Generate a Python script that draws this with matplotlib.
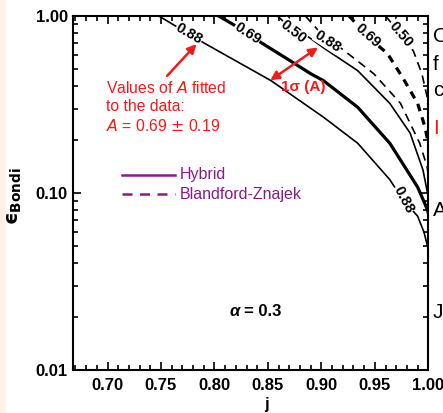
import matplotlib.pyplot as plt
from matplotlib.patches import Rectangle
from matplotlib.ticker import MultipleLocator, FixedLocator, NullFormatter

# ---------- data ----------
# solid (Hybrid) curves
hyb_088_j = [0.748, 0.776, 0.790, 0.853, 0.890, 0.902, 0.934, 0.964, 0.976, 0.990, 0.996, 1.000]
hyb_088_e = [1.000, 0.792, 0.705, 0.431, 0.301, 0.268, 0.191, 0.119, 0.092, 0.074, 0.060, 0.048]

hyb_069_j = [0.804, 0.831, 0.844, 0.871, 0.890, 0.902, 0.934, 0.964, 0.990, 0.999, 1.000]
hyb_069_e = [1.000, 0.802, 0.705, 0.558, 0.472, 0.431, 0.305, 0.191, 0.108, 0.081, 0.077]

hyb_050_j = [0.859, 0.874, 0.884, 0.902, 0.934, 0.964, 0.983, 0.995, 1.000]
hyb_050_e = [1.000, 0.822, 0.792, 0.661, 0.491, 0.321, 0.218, 0.135, 0.095]

# dashed (Blandford-Znajek) curves
bz_088_j = [0.885, 0.906, 0.918, 0.949, 0.974, 0.992, 0.999, 1.000]
bz_088_e = [1.000, 0.723, 0.661, 0.472, 0.321, 0.191, 0.140, 0.125]

bz_069_j = [0.926, 0.943, 0.962, 0.976, 0.990, 0.997, 1.000]
bz_069_e = [1.000, 0.771, 0.611, 0.449, 0.321, 0.235, 0.191]

bz_050_j = [0.960, 0.974, 0.986, 0.994, 0.999, 1.000]
bz_050_e = [1.000, 0.792, 0.635, 0.472, 0.347, 0.290]

x_ticks = [0.70, 0.75, 0.80, 0.85, 0.90, 0.95, 1.00]
y_ticks = [0.01, 0.10, 1.00]

RED = "#f51a1a"
PURPLE = "#8a1a8c"
SANS = ["Liberation Sans", "DejaVu Sans"]

fig = plt.figure(figsize=(4.43, 4.13), dpi=100)
fig.patches.append(Rectangle((0, 0), 5 / 443, 1, transform=fig.transFigure,
                             color="#fdf3ea", zorder=-1))
ax = fig.add_axes([73.3 / 443, 1 - 370 / 413, 355 / 443, 354 / 413])

thin, thick = 1.2, 2.3
dash = (0, (5, 3.5))
ax.plot(hyb_088_j, hyb_088_e, color="black", lw=thin)
ax.plot(hyb_069_j, hyb_069_e, color="black", lw=thick)
ax.plot(hyb_050_j, hyb_050_e, color="black", lw=thin)
ax.plot(bz_088_j, bz_088_e, color="black", lw=thin, linestyle=dash)
ax.plot(bz_069_j, bz_069_e, color="black", lw=thick, linestyle=(0, (2.4, 2)))
ax.plot(bz_050_j, bz_050_e, color="black", lw=thin, linestyle=dash)

# contour labels
labels = [(0.776, 0.79, -30, "0.88"), (0.831, 0.80, -33, "0.69"),
          (0.874, 0.82, -38, "0.50"), (0.906, 0.72, -33, "0.88"),
          (0.943, 0.77, -42, "0.69"), (0.974, 0.79, -50, "0.50"),
          (0.977, 0.092, -62, "0.88")]
for lx, ly, rot, s in labels:
    ax.text(lx, ly, s, rotation=rot, ha="center", va="center", fontsize=10.5,
            fontweight="bold", family=SANS, rotation_mode="anchor",
            bbox=dict(facecolor="white", edgecolor="none", pad=0.2))

ax.set_yscale("log")
ax.set_xlim(0.668, 1.0)
ax.set_ylim(0.01, 1.0)

ax.xaxis.set_major_locator(FixedLocator(x_ticks))
ax.xaxis.set_minor_locator(MultipleLocator(0.01))
ax.set_xticklabels(["%.2f" % v for v in x_ticks])
ax.yaxis.set_major_locator(FixedLocator(y_ticks))
ax.set_yticklabels(["%.2f" % v for v in y_ticks])
ax.yaxis.set_minor_formatter(NullFormatter())
ax.tick_params(which="both", direction="in", top=True, right=True, width=1.2)
ax.tick_params(which="major", length=6)
ax.tick_params(which="minor", length=3.5)
for lab in ax.get_xticklabels() + ax.get_yticklabels():
    lab.set_fontsize(12)
    lab.set_fontweight("bold")
    lab.set_family(SANS)
ax.tick_params(axis="x", pad=6)
ax.tick_params(axis="y", pad=4)
for sp in ax.spines.values():
    sp.set_linewidth(1.5)

ax.set_xlabel("j", fontsize=12, fontweight="bold", family=SANS)
ax.xaxis.set_label_coords((267 - 73.3) / 355, -0.075)
ax.set_ylabel("\u03f5$_\\mathbf{Bondi}$", fontsize=14, fontweight="bold",
              family="DejaVu Sans")
ax.yaxis.set_label_coords(-(73.3 - 24) / 355, 0.49)

# legend drawn by hand
ax.plot([0.714, 0.763], [0.1265, 0.1265], color=PURPLE, lw=1.8)
ax.plot([0.714, 0.763], [0.0987, 0.0987], color=PURPLE, lw=1.8, linestyle=(0, (4, 3)))
ax.text(0.768, 0.1265, "Hybrid", color=PURPLE, fontsize=11.5, va="center", family=SANS)
ax.text(0.768, 0.0987, "Blandford-Znajek", color=PURPLE, fontsize=11.5, va="center", family=SANS)

ax.text(0.814, 0.0213, "α", fontsize=12, fontweight="bold", fontstyle="italic",
        family=SANS, va="center")
ax.text(0.828, 0.0213, "= 0.3", fontsize=12, fontweight="bold", family=SANS, va="center")

# red annotations
ax.text(0.699, 0.306, "Values of $A$ fitted\nto the data:\n$A$ = 0.69 $\\pm$ 0.19",
        color=RED, fontsize=11.3, va="center", ha="left", family=SANS, linespacing=1.3)
ax.annotate("", xy=(0.785, 0.713), xytext=(0.754, 0.447),
            arrowprops=dict(arrowstyle="-|>", color=RED, lw=1.8, mutation_scale=13))
ax.annotate("", xy=(0.850, 0.424), xytext=(0.899, 0.678),
            arrowprops=dict(arrowstyle="<|-|>", color=RED, lw=1.8, mutation_scale=13))
ax.text(0.862, 0.395, "1σ (A)", color=RED, fontsize=11, fontweight="bold",
        family=SANS, va="center")

# cut-off slide text on the right edge
for ty, s, c in [(37, "C", "black"), (64, "f", "black"), (91, "c", "black"),
                 (128, "I", RED), (210, "A", "black"), (312, "J", "black")]:
    fig.text(433 / 443, 1 - ty / 413, s, color=c, fontsize=15, va="center", family=SANS)

fig.savefig("out.png", dpi=100)
